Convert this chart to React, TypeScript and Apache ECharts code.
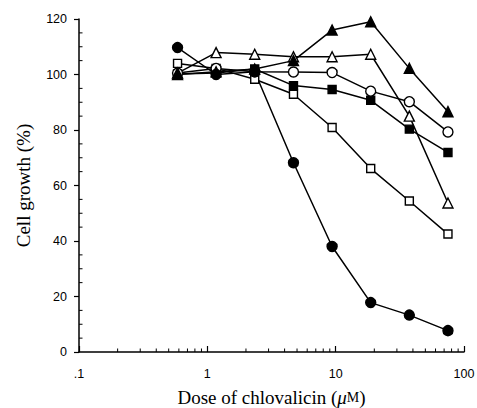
import React, { useEffect, useRef } from "react";
import * as echarts from "echarts";

const doses = [0.586, 1.17, 2.34, 4.69, 9.38, 18.75, 37.5, 75];
const filledCircle = [109.7, 100, 101, 68.2, 38, 17.8, 13.3, 7.7];
const filledTriangle = [100, 101, 102, 105, 116, 119, 102.2, 86.6];
const openTriangle = [100.5, 107.9, 107.3, 106.4, 106.4, 107.3, 85, 53.7];
const openCircle = [100.5, 102.2, 101, 100.9, 100.7, 94, 90.2, 79.3];
const filledSquare = [100.2, 100.5, 102, 96, 94.6, 90.7, 80.3, 71.9];
const openSquare = [104, 102.2, 98.3, 92.9, 80.9, 66.1, 54.4, 42.5];

const xTickLabels: Record<string, string> = { "0.1": ".1", "1": "1", "10": "10", "100": "100" };
const xMinorTicks = [0.2, 0.3, 0.4, 0.5, 0.6, 0.7, 0.8, 0.9, 2, 3, 4, 5, 6, 7, 8, 9, 20, 30, 40, 50, 60, 70, 80, 90];
const yMinorTicks = [5, 10, 15, 25, 30, 35, 45, 50, 55, 65, 70, 75, 85, 90, 95, 105, 110, 115];

const pair = (ys: number[]) => doses.map((d, i) => [d, ys[i]]);

export default function App() {
  const ref = useRef<HTMLDivElement>(null);
  useEffect(() => {
    const chart = echarts.init(ref.current!, null, { renderer: "svg" });
    const lineSeries = (name: string, ys: number[], symbol: string, filled: boolean, size: number) => ({
      name,
      type: "line",
      data: pair(ys),
      symbol,
      symbolSize: size,
      showAllSymbol: true,
      lineStyle: { color: "#000", width: 1.5 },
      itemStyle: { color: filled ? "#000" : "#fff", borderColor: "#000", borderWidth: 1.4 },
      z: 3,
    });
    chart.setOption({
      animation: false,
      backgroundColor: "#fff",
      grid: { left: 79, right: 13, top: 19, bottom: 56, containLabel: false, outerBoundsMode: "none" },
      xAxis: {
        type: "log",
        min: 0.1,
        max: 100,
        logBase: 10,
        name: "Dose of chlovalicin ({i|μ}{s|M})",
        nameLocation: "middle",
        nameGap: 36,
        nameTextStyle: {
          fontFamily: "Liberation Serif",
          fontSize: 19,
          color: "#000",
          rich: {
            i: { fontFamily: "Liberation Serif", fontStyle: "italic", fontSize: 19, color: "#000" },
            s: { fontFamily: "Liberation Serif", fontSize: 14, color: "#000" },
          },
        },
        axisLine: { lineStyle: { color: "#000", width: 1.5 } },
        axisTick: { inside: true, length: 6, lineStyle: { color: "#000", width: 1.2 } },
        axisLabel: {
          formatter: (v: number) => xTickLabels[String(v)] ?? String(v),
          fontFamily: "Liberation Sans",
          fontSize: 12.5,
          color: "#000",
          margin: 15,
        },
        splitLine: { show: false },
      },
      yAxis: {
        type: "value",
        min: 0,
        max: 120,
        interval: 20,
        name: "Cell growth (%)",
        nameLocation: "middle",
        nameGap: 46,
        nameTextStyle: { fontFamily: "Liberation Serif", fontSize: 19, color: "#000" },
        axisLine: { show: true, lineStyle: { color: "#000", width: 1.5 } },
        axisTick: { show: true, length: 5, lineStyle: { color: "#000", width: 1.2 } },
        axisLabel: { fontFamily: "Liberation Sans", fontSize: 12.5, color: "#000", margin: 12 },
        splitLine: { show: false },
      },
      series: [
        {
          type: "custom",
          silent: true,
          clip: false,
          data: xMinorTicks.map((v) => [v, 0]),
          encode: { x: 0, y: 1 },
          renderItem: (params: any, api: any) => {
            const p = api.coord([api.value(0), 0]);
            return {
              type: "line",
              shape: { x1: p[0], y1: p[1], x2: p[0], y2: p[1] - 3.5 },
              style: { stroke: "#000", lineWidth: 1 },
            };
          },
          z: 1,
        },
        {
          type: "custom",
          silent: true,
          clip: false,
          data: yMinorTicks.map((v) => [0.1, v]),
          encode: { x: 0, y: 1 },
          renderItem: (params: any, api: any) => {
            const p = api.coord([api.value(0), api.value(1)]);
            return {
              type: "line",
              shape: { x1: p[0], y1: p[1], x2: p[0] + 3.5, y2: p[1] },
              style: { stroke: "#000", lineWidth: 1 },
            };
          },
          z: 1,
        },
        lineSeries("openSquare", openSquare, "rect", false, 8),
        lineSeries("filledSquare", filledSquare, "rect", true, 8),
        lineSeries("openCircle", openCircle, "circle", false, 10),
        lineSeries("openTriangle", openTriangle, "triangle", false, 10),
        lineSeries("filledTriangle", filledTriangle, "triangle", true, 10),
        lineSeries("filledCircle", filledCircle, "circle", true, 10),
      ],
    });
    return () => chart.dispose();
  }, []);
  return (
    <div
      ref={ref}
      style={{ position: "fixed", left: 0, top: 0, width: 477, height: 408, background: "#fff" }}
    />
  );
}
